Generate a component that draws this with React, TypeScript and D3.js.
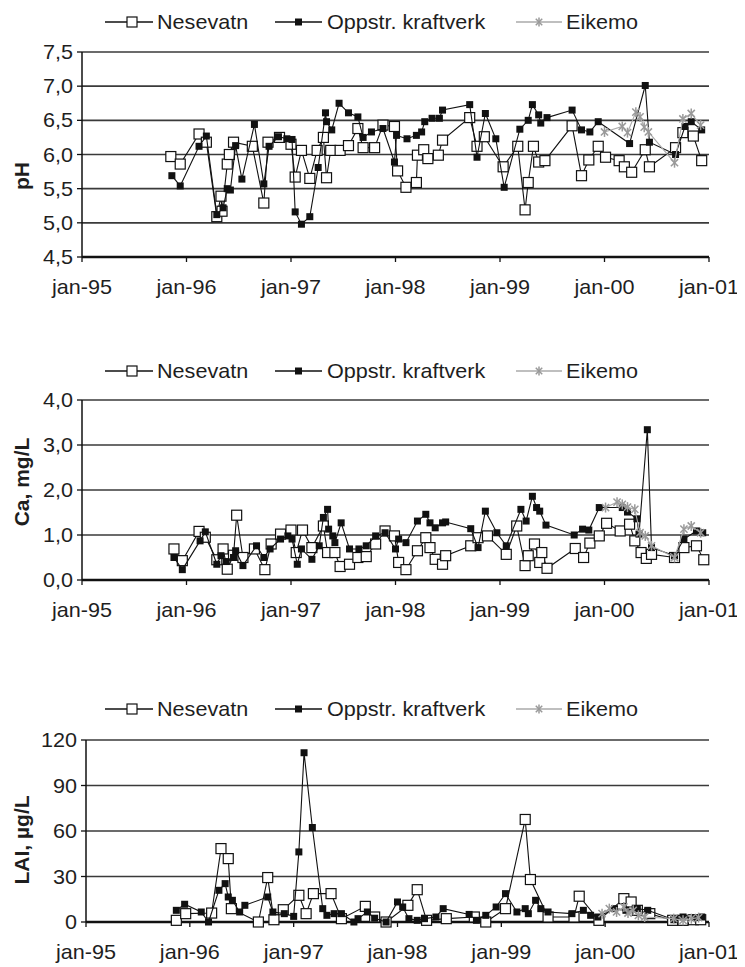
import React from "react";
import * as d3 from "d3";

// ---------- axis data ----------
const X_TICKS = [1995, 1996, 1997, 1998, 1999, 2000, 2001];
const X_LABELS = ["jan-95", "jan-96", "jan-97", "jan-98", "jan-99", "jan-00", "jan-01"];

const PH_TICKS = [4.5, 5.0, 5.5, 6.0, 6.5, 7.0, 7.5];
const PH_LABELS = ["4,5", "5,0", "5,5", "6,0", "6,5", "7,0", "7,5"];
const CA_TICKS = [0, 1, 2, 3, 4];
const CA_LABELS = ["0,0", "1,0", "2,0", "3,0", "4,0"];
const LAI_TICKS = [0, 30, 60, 90, 120];
const LAI_LABELS = ["0", "30", "60", "90", "120"];

const SERIES_NAMES = ["Nesevatn", "Oppstr. kraftverk", "Eikemo"];

// ---------- pH ----------
const phNesevatn: [number, number][] = [
  [1995.85, 5.97], [1995.94, 5.86], [1996.12, 6.3], [1996.19, 6.18], [1996.29, 5.09], [1996.33, 5.39],
  [1996.34, 5.17], [1996.39, 5.86], [1996.41, 6.0], [1996.45, 6.18], [1996.63, 6.12], [1996.74, 5.29],
  [1996.78, 6.18], [1996.89, 6.25], [1997.0, 6.15], [1997.04, 5.67], [1997.1, 6.06], [1997.18, 5.65],
  [1997.25, 6.06], [1997.31, 6.25], [1997.34, 5.66], [1997.38, 6.06], [1997.47, 6.06], [1997.55, 6.13],
  [1997.64, 6.38], [1997.69, 6.1], [1997.8, 6.1], [1997.88, 6.43], [1997.99, 6.41], [1998.02, 5.76],
  [1998.1, 5.52], [1998.2, 5.59], [1998.21, 5.99], [1998.27, 6.07], [1998.31, 5.94], [1998.41, 5.99],
  [1998.45, 6.21], [1998.71, 6.54], [1998.78, 6.12], [1998.85, 6.26], [1999.03, 5.82], [1999.17, 6.12],
  [1999.24, 5.19], [1999.27, 5.59], [1999.32, 6.12], [1999.37, 5.89], [1999.43, 5.91], [1999.69, 6.42],
  [1999.78, 5.69], [1999.85, 5.92], [1999.94, 6.12], [2000.01, 5.96], [2000.14, 5.91], [2000.19, 5.82],
  [2000.26, 5.74], [2000.39, 6.07], [2000.43, 5.82], [2000.68, 6.1], [2000.75, 6.32], [2000.85, 6.27],
  [2000.93, 5.91],
];
const phOppstr: [number, number][] = [
  [1995.86, 5.69], [1995.94, 5.54], [1996.12, 6.12], [1996.19, 6.27], [1996.29, 5.12], [1996.35, 5.22],
  [1996.39, 5.5], [1996.42, 5.48], [1996.47, 6.13], [1996.53, 5.64], [1996.65, 6.44], [1996.74, 5.57],
  [1996.79, 6.12], [1996.88, 6.26], [1996.96, 6.23], [1997.01, 6.22], [1997.04, 5.16], [1997.1, 4.98],
  [1997.18, 5.09], [1997.26, 5.81], [1997.33, 6.61], [1997.34, 6.48], [1997.39, 6.36], [1997.46, 6.75],
  [1997.55, 6.61], [1997.64, 6.55], [1997.69, 6.25], [1997.77, 6.33], [1997.88, 6.38], [1997.99, 5.89],
  [1998.01, 6.28], [1998.11, 6.23], [1998.2, 6.28], [1998.25, 6.33], [1998.28, 6.48], [1998.35, 6.53],
  [1998.42, 6.53], [1998.45, 6.65], [1998.71, 6.73], [1998.78, 5.96], [1998.86, 6.6], [1998.96, 6.23],
  [1999.04, 5.52], [1999.19, 6.37], [1999.27, 6.5], [1999.31, 6.73], [1999.37, 6.58], [1999.39, 6.46],
  [1999.45, 6.54], [1999.69, 6.65], [1999.78, 6.36], [1999.86, 6.33], [1999.94, 6.48], [2000.24, 6.16],
  [2000.39, 7.01], [2000.43, 6.18], [2000.68, 6.0], [2000.77, 6.41], [2000.83, 6.48], [2000.93, 6.36],
];
const phEikemo: [number, number][] = [
  [2000.0, 6.33], [2000.17, 6.41], [2000.22, 6.32], [2000.3, 6.62], [2000.34, 6.55], [2000.38, 6.4],
  [2000.42, 6.33], [2000.67, 5.88], [2000.75, 6.52], [2000.83, 6.6], [2000.92, 6.43],
];

// ---------- Ca ----------
const caNesevatn: [number, number][] = [
  [1995.88, 0.69], [1995.96, 0.43], [1996.12, 1.08], [1996.18, 0.95], [1996.29, 0.45], [1996.35, 0.69],
  [1996.39, 0.24], [1996.45, 0.55], [1996.48, 1.44], [1996.54, 0.5], [1996.65, 0.69], [1996.75, 0.23],
  [1996.81, 0.8], [1996.9, 1.02], [1997.0, 1.11], [1997.05, 0.61], [1997.11, 1.11], [1997.2, 0.72],
  [1997.31, 1.2], [1997.35, 0.61], [1997.42, 0.61], [1997.47, 0.3], [1997.56, 0.35], [1997.64, 0.5],
  [1997.72, 0.52], [1997.81, 0.8], [1997.9, 1.09], [1997.99, 0.98], [1998.03, 0.39], [1998.1, 0.23],
  [1998.21, 0.65], [1998.29, 0.94], [1998.33, 0.72], [1998.38, 0.46], [1998.45, 0.35], [1998.48, 0.54],
  [1998.72, 0.76], [1998.79, 0.94], [1998.88, 0.98], [1999.06, 0.57], [1999.16, 1.2], [1999.24, 0.32],
  [1999.27, 0.54], [1999.33, 0.8], [1999.38, 0.39], [1999.4, 0.61], [1999.45, 0.26], [1999.72, 0.7],
  [1999.8, 0.5], [1999.86, 0.82], [1999.95, 0.98], [2000.02, 1.26], [2000.15, 1.09], [2000.24, 1.24],
  [2000.29, 0.87], [2000.35, 0.61], [2000.4, 0.48], [2000.45, 0.57], [2000.67, 0.5], [2000.76, 0.72],
  [2000.88, 0.76], [2000.95, 0.45],
];
const caOppstr: [number, number][] = [
  [1995.88, 0.5], [1995.96, 0.23], [1996.13, 0.87], [1996.18, 1.07], [1996.29, 0.35], [1996.33, 0.54],
  [1996.38, 0.41], [1996.45, 0.5], [1996.47, 0.65], [1996.54, 0.32], [1996.67, 0.76], [1996.74, 0.5],
  [1996.8, 0.69], [1996.9, 0.91], [1996.97, 0.98], [1997.01, 0.91], [1997.06, 0.35], [1997.1, 0.69],
  [1997.2, 0.46], [1997.27, 0.76], [1997.31, 1.39], [1997.35, 1.57], [1997.36, 1.13], [1997.4, 0.98],
  [1997.42, 0.83], [1997.48, 1.27], [1997.56, 0.69], [1997.65, 0.69], [1997.72, 0.76], [1997.81, 0.98],
  [1997.9, 1.05], [1998.0, 0.69], [1998.03, 0.91], [1998.1, 0.83], [1998.21, 1.31], [1998.29, 1.46],
  [1998.33, 1.27], [1998.38, 1.16], [1998.45, 1.27], [1998.48, 1.29], [1998.72, 1.14], [1998.79, 0.72],
  [1998.86, 1.53], [1998.97, 1.05], [1999.06, 0.76], [1999.2, 1.57], [1999.25, 1.31], [1999.31, 1.86],
  [1999.35, 1.61], [1999.38, 1.53], [1999.44, 1.22], [1999.71, 1.0], [1999.79, 1.13], [1999.85, 1.11],
  [1999.95, 1.61], [2000.17, 1.61], [2000.22, 1.51], [2000.31, 1.36], [2000.33, 1.02], [2000.41, 3.34],
  [2000.45, 0.72], [2000.67, 0.54], [2000.76, 0.91], [2000.88, 1.09], [2000.94, 1.05],
];
const caEikemo: [number, number][] = [
  [2000.01, 1.61], [2000.12, 1.73], [2000.17, 1.68], [2000.22, 1.62], [2000.29, 1.57], [2000.34, 1.05],
  [2000.39, 0.98], [2000.45, 0.76], [2000.67, 0.5], [2000.76, 1.13], [2000.83, 1.2], [2000.92, 1.05],
];

// ---------- LAI ----------
const laiNesevatn: [number, number][] = [
  [1995.87, 1.1], [1995.96, 5.5], [1996.21, 5.9], [1996.3, 48.4], [1996.37, 41.8], [1996.4, 8.8],
  [1996.66, 0], [1996.75, 29.3], [1996.81, 1.5], [1996.9, 8.1], [1997.05, 17.6], [1997.12, 5.5],
  [1997.19, 18.7], [1997.36, 18.7], [1997.46, 2.2], [1997.69, 10.3], [1997.78, 3.3], [1997.89, 0],
  [1998.1, 11], [1998.19, 21.3], [1998.28, 1.1], [1998.47, 2.2], [1998.74, 3.3], [1998.85, 0],
  [1999.04, 8.8], [1999.23, 67.6], [1999.28, 28], [1999.45, 3.3], [1999.7, 3.3], [1999.75, 17],
  [1999.94, 1.1], [2000.18, 15.4], [2000.25, 13.2], [2000.31, 7.7], [2000.43, 5.5], [2000.65, 1.1],
  [2000.75, 1.1], [2000.85, 1.5], [2000.92, 1.5],
];
const laiOppstr: [number, number][] = [
  [1995.87, 7.7], [1995.95, 11.7], [1996.11, 6.6], [1996.18, 0], [1996.28, 20.9], [1996.34, 25.3],
  [1996.37, 16.5], [1996.41, 14.3], [1996.48, 6.6], [1996.53, 11], [1996.75, 16.5], [1996.8, 6.6],
  [1996.91, 5.5], [1997.0, 3.7], [1997.05, 46.2], [1997.1, 111.6], [1997.18, 62.3], [1997.28, 8.8],
  [1997.32, 4.4], [1997.39, 5.5], [1997.46, 5.5], [1997.58, 0], [1997.62, 2.2], [1997.71, 6.6],
  [1997.78, 2.5], [1997.89, 0], [1998.0, 13.2], [1998.05, 9.9], [1998.11, 2.2], [1998.19, 1.1],
  [1998.26, 2.2], [1998.37, 3.3], [1998.44, 8.8], [1998.69, 5], [1998.76, 1.1], [1998.85, 4.4],
  [1998.95, 9.9], [1999.04, 18.7], [1999.15, 6.6], [1999.23, 8.8], [1999.26, 5.5], [1999.33, 14.3],
  [1999.38, 8.8], [1999.45, 6.6], [1999.68, 5.5], [1999.79, 7.7], [1999.86, 4.4], [1999.93, 3.3],
  [2000.09, 8.8], [2000.2, 7.7], [2000.31, 8.8], [2000.41, 7.7], [2000.66, 1.5], [2000.75, 3.3],
  [2000.87, 2.9], [2000.93, 3.3],
];
const laiEikemo: [number, number][] = [
  [1999.97, 5.5], [2000.04, 8.8], [2000.11, 6.6], [2000.18, 9.9], [2000.22, 5.9], [2000.27, 7.7],
  [2000.32, 4.4], [2000.38, 3.3], [2000.66, 2.2], [2000.75, 1.1], [2000.83, 2.2], [2000.9, 2.9],
];

const FONT = "'Liberation Sans', Arial, Helvetica, sans-serif";
const TEXT = "#1e1e1e";
const SX = 1.08; // horizontal widening of the scanned glyphs

function T({
  x,
  y,
  anchor,
  children,
  size = 20,
}: {
  x: number;
  y: number;
  anchor?: "start" | "middle" | "end";
  children: React.ReactNode;
  size?: number;
}) {
  return (
    <text
      transform={`translate(${x},${y}) scale(${SX},1)`}
      textAnchor={anchor || "start"}
      fontFamily={FONT}
      fontSize={size}
      fill={TEXT}
    >
      {children}
    </text>
  );
}

function Star({ x, y, r, color }: { x: number; y: number; r: number; color: string }) {
  const d = r * 0.72;
  return (
    <g stroke={color} strokeWidth={1.5}>
      <line x1={x} y1={y - r} x2={x} y2={y + r} />
      <line x1={x - d} y1={y - d} x2={x + d} y2={y + d} />
      <line x1={x - d} y1={y + d} x2={x + d} y2={y - d} />
    </g>
  );
}

function Legend({ y }: { y: number }) {
  const base = y + 7;
  return (
    <g>
      <line x1={105} x2={153} y1={y} y2={y} stroke="#111" strokeWidth={1.3} />
      <rect x={127} y={y - 5} width={10} height={10} fill="#fff" stroke="#111" strokeWidth={1.2} />
      <T x={157} y={base}>{SERIES_NAMES[0]}</T>
      <line x1={275} x2={322} y1={y} y2={y} stroke="#111" strokeWidth={1.3} />
      <rect x={295} y={y - 3.5} width={7} height={7} fill="#111" />
      <T x={327} y={base}>{SERIES_NAMES[1]}</T>
      <line x1={516} x2={562} y1={y} y2={y} stroke="#aaa" strokeWidth={1.3} />
      <Star x={539} y={y} r={4.5} color="#999" />
      <T x={566} y={base}>{SERIES_NAMES[2]}</T>
    </g>
  );
}

type PanelProps = {
  top: number;
  bottom: number;
  left: number;
  right: number;
  yTicks: number[];
  yLabels: string[];
  title: string;
  titleY: number;
  legendY: number;
  nes: [number, number][];
  opp: [number, number][];
  eik: [number, number][];
};

function Panel(p: PanelProps) {
  const x = d3.scaleLinear().domain([X_TICKS[0], X_TICKS[X_TICKS.length - 1]]).range([p.left, p.right]);
  const y = d3
    .scaleLinear()
    .domain([p.yTicks[0], p.yTicks[p.yTicks.length - 1]])
    .range([p.bottom, p.top]);
  const line = d3
    .line<[number, number]>()
    .x((d) => x(d[0]))
    .y((d) => y(d[1]));
  return (
    <g>
      <Legend y={p.legendY} />
      {p.yTicks.map((t, i) => (
        <g key={t}>
          {i > 0 && (
            <line x1={p.left} x2={p.right} y1={y(t)} y2={y(t)} stroke="#3a3a3a" strokeWidth={1.6} />
          )}
          <line x1={p.left - 5} x2={p.left} y1={y(t)} y2={y(t)} stroke="#111" strokeWidth={1.3} />
          <T x={p.left - 9} y={y(t) + 7} anchor="end">
            {p.yLabels[i]}
          </T>
        </g>
      ))}
      <line x1={p.left} x2={p.left} y1={p.top} y2={p.bottom} stroke="#111" strokeWidth={1.5} />
      <line x1={p.left} x2={p.right} y1={p.bottom} y2={p.bottom} stroke="#111" strokeWidth={2.5} />
      {X_TICKS.map((t, i) => (
        <g key={t}>
          <line x1={x(t)} x2={x(t)} y1={p.bottom} y2={p.bottom + 5} stroke="#111" strokeWidth={1.3} />
          <T x={x(t)} y={p.bottom + 37} anchor="middle">
            {X_LABELS[i]}
          </T>
        </g>
      ))}
      <text
        transform={`translate(29,${p.titleY}) rotate(-90)`}
        textAnchor="middle"
        fontFamily={FONT}
        fontSize={21}
        fontWeight="bold"
        fill={TEXT}
      >
        {p.title}
      </text>
      {/* Nesevatn */}
      <path d={line(p.nes) || ""} fill="none" stroke="#111" strokeWidth={1.1} />
      {p.nes.map((d, i) => (
        <rect
          key={"n" + i}
          x={x(d[0]) - 5}
          y={y(d[1]) - 5}
          width={10}
          height={10}
          fill="#fff"
          stroke="#111"
          strokeWidth={1.2}
        />
      ))}
      {/* Oppstr. kraftverk */}
      <path d={line(p.opp) || ""} fill="none" stroke="#111" strokeWidth={1.1} />
      {p.opp.map((d, i) => (
        <rect key={"o" + i} x={x(d[0]) - 3.5} y={y(d[1]) - 3.5} width={7} height={7} fill="#111" />
      ))}
      {/* Eikemo */}
      <path d={line(p.eik) || ""} fill="none" stroke="#aaa" strokeWidth={1.1} />
      {p.eik.map((d, i) => (
        <Star key={"e" + i} x={x(d[0])} y={y(d[1])} r={5} color="#9a9a9a" />
      ))}
    </g>
  );
}

export default function App() {
  return (
    <svg width={737} height={960} style={{ display: "block" }} viewBox="8 8 737 960">
      <rect x={0} y={0} width={745} height={967} fill="#fff" />
      <Panel
        top={52}
        bottom={257}
        left={82}
        right={709}
        yTicks={PH_TICKS}
        yLabels={PH_LABELS}
        title="pH"
        titleY={176}
        legendY={22}
        nes={phNesevatn}
        opp={phOppstr}
        eik={phEikemo}
      />
      <Panel
        top={400}
        bottom={580}
        left={82}
        right={709}
        yTicks={CA_TICKS}
        yLabels={CA_LABELS}
        title="Ca, mg/L"
        titleY={482}
        legendY={371}
        nes={caNesevatn}
        opp={caOppstr}
        eik={caEikemo}
      />
      <Panel
        top={740}
        bottom={922}
        left={86}
        right={709}
        yTicks={LAI_TICKS}
        yLabels={LAI_LABELS}
        title="LAI, µg/L"
        titleY={840}
        legendY={709}
        nes={laiNesevatn}
        opp={laiOppstr}
        eik={laiEikemo}
      />
    </svg>
  );
}
